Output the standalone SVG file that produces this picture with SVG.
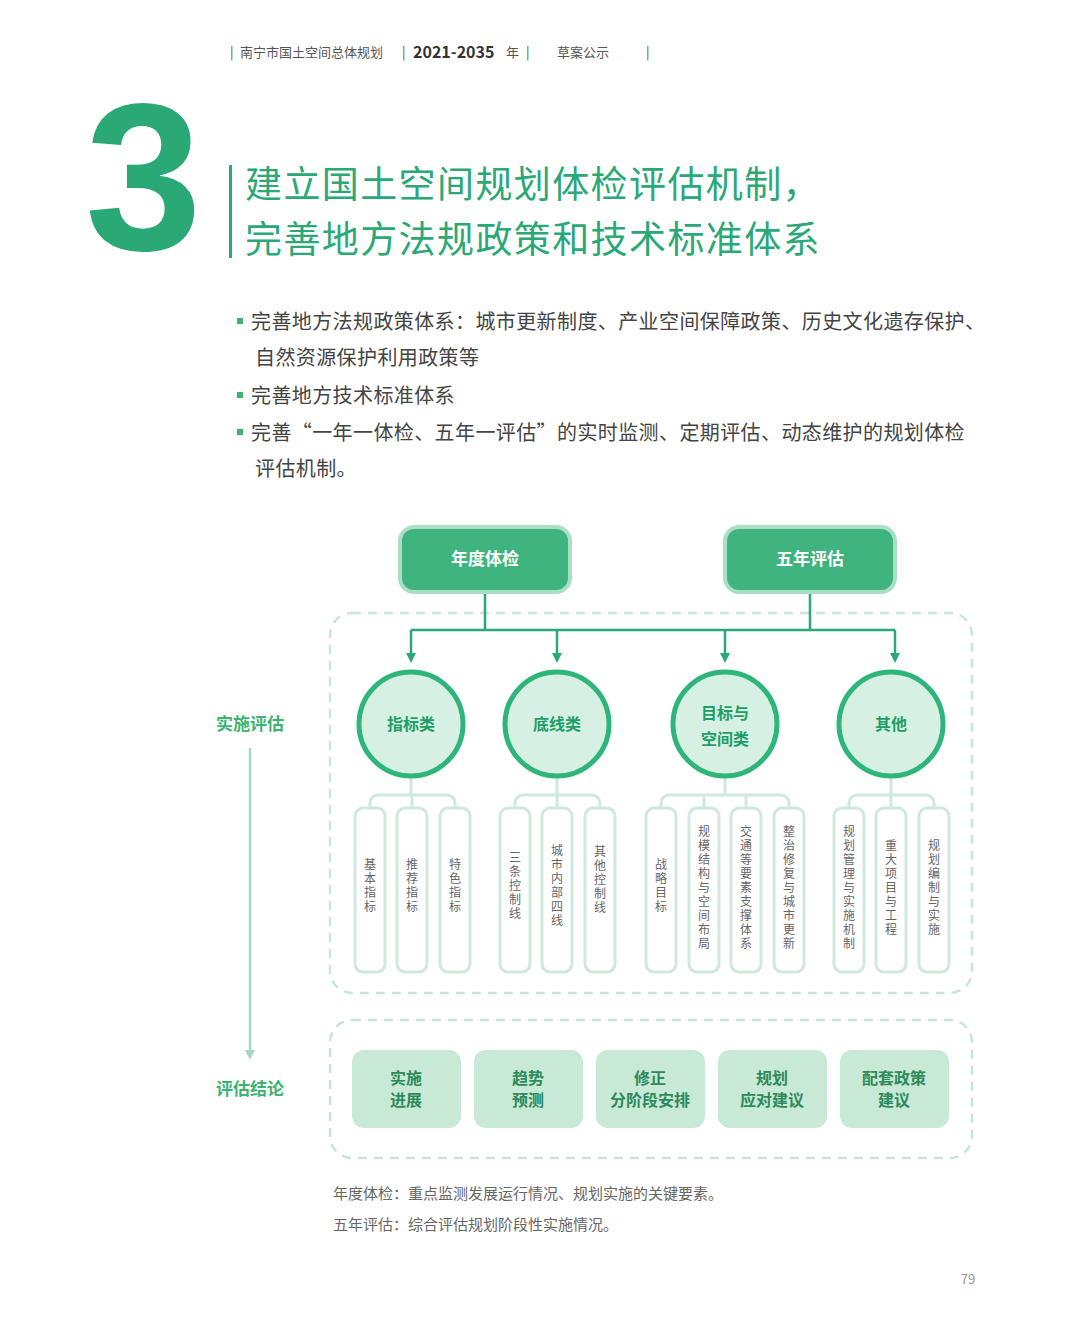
<svg xmlns="http://www.w3.org/2000/svg" width="1080" height="1337" viewBox="0 0 1080 1337">
<style>
text{font-family:"Noto Sans CJK SC","Liberation Sans",sans-serif}
.hd{font-size:13px;fill:#555}
.bul{font-size:20px;fill:#444;letter-spacing:0.4px}
.sq{fill:#3cb371}
.ttl{font-size:37px;fill:#2aa876;letter-spacing:1.4px}
.top rect{fill:#3fb47e;stroke:#a9dfc4;stroke-width:4}
.top text{fill:#fff;font-size:17px;font-weight:bold;text-anchor:middle}
.cir circle{fill:#d6f0e3;stroke:#2db57a;stroke-width:5}
.cir text{fill:#1f9e68;font-size:16px;font-weight:bold;text-anchor:middle}
.leaf rect{fill:#fff;stroke:#cfe9dc;stroke-width:3}
.leaf text{fill:#666;font-size:12px;text-anchor:middle;writing-mode:tb;letter-spacing:2px}
.res rect{fill:#c8e9d6}
.res text{fill:#2d8a5a;font-size:16px;font-weight:bold;text-anchor:middle}
.dash{fill:none;stroke:#c8e6d6;stroke-width:2.5;stroke-dasharray:9 7}
.br{fill:none;stroke:#cfe9dc;stroke-width:3}
.cn{fill:none;stroke:#2aa876;stroke-width:2.5}
.side{fill:#3cb371;font-size:17px;font-weight:bold;text-anchor:middle}
.note{font-size:15px;fill:#666}
</style>
<defs><marker id="ar" markerWidth="10" markerHeight="10" refX="5" refY="5" orient="auto" markerUnits="userSpaceOnUse"><path d="M0,0L10,5L0,10z" fill="#2aa876"/></marker>
<marker id="ar2" markerWidth="10" markerHeight="10" refX="5" refY="5" orient="auto" markerUnits="userSpaceOnUse"><path d="M0,0L10,5L0,10z" fill="#a8d8bf"/></marker></defs>
<rect width="1080" height="1337" fill="#fff"/>
<g id="header" class="hd">
<text x="230" y="57">|</text><text x="240" y="57">南宁市国土空间总体规划</text><text x="402" y="57">|</text>
<text x="413" y="58" font-size="16" font-weight="bold" fill="#333">2021-2035</text><text x="506" y="57">年</text><text x="526" y="57">|</text>
<text x="557" y="57">草案公示</text><text x="646" y="57">|</text>
</g>
<g id="bignum"><text x="85" y="250" font-size="210" font-weight="bold" fill="#2aa876" style="font-family:'Liberation Sans',sans-serif">3</text></g>
<rect x="229" y="165" width="3" height="93" fill="#2aa876"/>
<text x="245" y="198" class="ttl">建立国土空间规划体检评估机制，</text>
<text x="245" y="253" class="ttl">完善地方法规政策和技术标准体系</text>
<rect x="237" y="318" width="6" height="6" class="sq"/><text x="251" y="329" class="bul">完善地方法规政策体系：城市更新制度、产业空间保障政策、历史文化遗存保护、</text>
<text x="255" y="365" class="bul">自然资源保护利用政策等</text>
<rect x="237" y="392" width="6" height="6" class="sq"/><text x="251" y="403" class="bul">完善地方技术标准体系</text>
<rect x="237" y="429" width="6" height="6" class="sq"/><text x="251" y="440" class="bul">完善“一年一体检、五年一评估”的实时监测、定期评估、动态维护的规划体检</text>
<text x="255" y="476" class="bul">评估机制。</text>
<rect x="330" y="613" width="642" height="380" rx="22" class="dash"/>
<rect x="330" y="1020" width="642" height="138" rx="22" class="dash"/>
<g id="connectors">
<path class="cn" d="M485,592V630M810,592V630M411,630H895"/>
<path class="cn" d="M411,630V658" marker-end="url(#ar)"/><path class="cn" d="M557,630V658" marker-end="url(#ar)"/>
<path class="cn" d="M725,630V658" marker-end="url(#ar)"/><path class="cn" d="M895,630V658" marker-end="url(#ar)"/>
<path class="br" d="M411,778V795M370,808V803a8,8 0 0 1 8,-8H447a8,8 0 0 1 8,8V808M412,795V808"/>
<path class="br" d="M557,778V795M515,808V803a8,8 0 0 1 8,-8H592a8,8 0 0 1 8,8V808M557,795V808"/>
<path class="br" d="M725,778V795M661,808V803a8,8 0 0 1 8,-8H781a8,8 0 0 1 8,8V808M704,795V808M746,795V808"/>
<path class="br" d="M891,778V795M849,808V803a8,8 0 0 1 8,-8H926a8,8 0 0 1 8,8V808M891,795V808"/>
<path d="M250,748V1055" stroke="#a8d8bf" stroke-width="2.5" marker-end="url(#ar2)"/>
</g>
<g id="n1" class="top"><rect x="400" y="527" width="170" height="65" rx="14"/><text x="485" y="565">年度体检</text></g>
<g id="n2" class="top"><rect x="725" y="527" width="170" height="65" rx="14"/><text x="810" y="565">五年评估</text></g>
<g id="c1" class="cir"><circle cx="411" cy="724" r="52"/><text x="411" y="730">指标类</text></g>
<g id="c2" class="cir"><circle cx="557" cy="724" r="52"/><text x="557" y="730">底线类</text></g>
<g id="c3" class="cir"><circle cx="725" cy="724" r="52"/><text x="725" y="719">目标与</text><text x="725" y="745">空间类</text></g>
<g id="c4" class="cir"><circle cx="891" cy="724" r="52"/><text x="891" y="730">其他</text></g>
<g class="leaf">
<g id="l1"><rect x="355" y="808" width="30" height="164" rx="8"/><text x="370" y="886">基本指标</text></g>
<g id="l2"><rect x="397" y="808" width="30" height="164" rx="8"/><text x="412" y="886">推荐指标</text></g>
<g id="l3"><rect x="440" y="808" width="30" height="164" rx="8"/><text x="455" y="886">特色指标</text></g>
<g id="l4"><rect x="500" y="808" width="30" height="164" rx="8"/><text x="515" y="886">三条控制线</text></g>
<g id="l5"><rect x="542" y="808" width="30" height="164" rx="8"/><text x="557" y="886">城市内部四线</text></g>
<g id="l6"><rect x="585" y="808" width="30" height="164" rx="8"/><text x="600" y="880">其他控制线</text></g>
<g id="l7"><rect x="646" y="808" width="30" height="164" rx="8"/><text x="661" y="886">战略目标</text></g>
<g id="l8"><rect x="689" y="808" width="30" height="164" rx="8"/><text x="704" y="888">规模结构与空间布局</text></g>
<g id="l9"><rect x="731" y="808" width="30" height="164" rx="8"/><text x="746" y="888">交通等要素支撑体系</text></g>
<g id="l10"><rect x="774" y="808" width="30" height="164" rx="8"/><text x="789" y="888">整治修复与城市更新</text></g>
<g id="l11"><rect x="834" y="808" width="30" height="164" rx="8"/><text x="849" y="888">规划管理与实施机制</text></g>
<g id="l12"><rect x="876" y="808" width="30" height="164" rx="8"/><text x="891" y="888">重大项目与工程</text></g>
<g id="l13"><rect x="919" y="808" width="30" height="164" rx="8"/><text x="934" y="888">规划编制与实施</text></g>
</g>
<g class="res">
<g id="r1"><rect x="352" y="1050" width="109" height="78" rx="12"/><text x="406" y="1084">实施</text><text x="406" y="1106">进展</text></g>
<g id="r2"><rect x="474" y="1050" width="109" height="78" rx="12"/><text x="528" y="1084">趋势</text><text x="528" y="1106">预测</text></g>
<g id="r3"><rect x="596" y="1050" width="109" height="78" rx="12"/><text x="650" y="1084">修正</text><text x="650" y="1106">分阶段安排</text></g>
<g id="r4"><rect x="718" y="1050" width="109" height="78" rx="12"/><text x="772" y="1084">规划</text><text x="772" y="1106">应对建议</text></g>
<g id="r5"><rect x="840" y="1050" width="109" height="78" rx="12"/><text x="894" y="1084">配套政策</text><text x="894" y="1106">建议</text></g>
</g>
<text x="250" y="730" class="side">实施评估</text>
<text x="250" y="1095" class="side">评估结论</text>
<text x="333" y="1199" class="note">年度体检：重点监测发展运行情况、规划实施的关键要素。</text>
<text x="333" y="1230" class="note">五年评估：综合评估规划阶段性实施情况。</text>
<text x="968" y="1284" font-size="13" fill="#999" text-anchor="middle">79</text>
</svg>
